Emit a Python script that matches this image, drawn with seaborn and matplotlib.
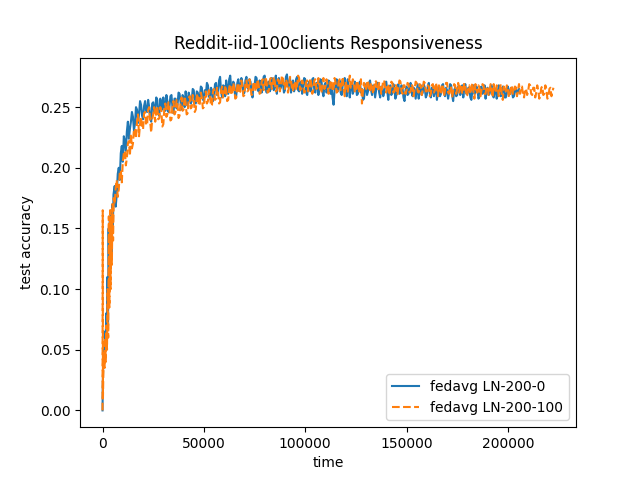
import numpy as np
import pandas as pd
import matplotlib
matplotlib.use("Agg")
import matplotlib.pyplot as plt
import seaborn as sns

title = "Reddit-iid-100clients Responsiveness"
x_label = "time"
y_label = "test accuracy"
label_blue = "fedavg LN-200-0"
label_orange = "fedavg LN-200-100"

early_time_blue = [0, 100, 300, 600, 900, 1200, 1500, 1800, 2100, 2400, 2700,
                   3000, 3300, 3600, 3900, 4200, 4500, 4800, 5100, 5400]
early_acc_blue = [0.0, 0.02, 0.035, 0.05, 0.04, 0.065, 0.05, 0.08, 0.06, 0.11,
                  0.07, 0.15, 0.10, 0.16, 0.12, 0.165, 0.13, 0.17, 0.15, 0.178]

early_time_orange = [0, 100, 200, 400, 700, 1000, 1300, 1600, 1900, 2200, 2500,
                     2800, 3100, 3400, 3700, 4000, 4300, 4600, 4900, 5200, 5500]
early_acc_orange = [0.0, 0.165, 0.01, 0.03, 0.045, 0.035, 0.06, 0.04, 0.07, 0.05,
                    0.10, 0.06, 0.16, 0.085, 0.165, 0.10, 0.16, 0.12, 0.17, 0.14, 0.175]

main_start = 6000
main_step = 500

acc_blue = [
    0.185, 0.168, 0.178, 0.195, 0.200, 0.190, 0.212, 0.218, 0.205, 0.226, 0.222, 0.214, 0.230, 0.238, 0.224, 0.232, 0.238, 0.246, 0.242, 0.231,
    0.236, 0.250, 0.248, 0.237, 0.244, 0.255, 0.252, 0.243, 0.240, 0.251, 0.255, 0.247, 0.246, 0.256, 0.250, 0.241, 0.238, 0.253, 0.254, 0.246,
    0.249, 0.258, 0.256, 0.244, 0.243, 0.257, 0.253, 0.248, 0.258, 0.251, 0.247, 0.260, 0.255, 0.246, 0.250, 0.259, 0.260, 0.250, 0.245, 0.257,
    0.257, 0.249, 0.252, 0.262, 0.261, 0.254, 0.248, 0.260, 0.258, 0.250, 0.263, 0.256, 0.251, 0.262, 0.259, 0.253, 0.255, 0.265, 0.264, 0.254,
    0.253, 0.263, 0.262, 0.255, 0.258, 0.267, 0.266, 0.257, 0.255, 0.264, 0.261, 0.270, 0.268, 0.259, 0.257, 0.266, 0.264, 0.255, 0.259, 0.269,
    0.270, 0.260, 0.262, 0.272, 0.275, 0.263, 0.258, 0.268, 0.267, 0.259, 0.272, 0.266, 0.261, 0.273, 0.276, 0.265, 0.264, 0.271, 0.269, 0.258,
    0.260, 0.270, 0.273, 0.264, 0.266, 0.274, 0.270, 0.261, 0.262, 0.272, 0.275, 0.266, 0.265, 0.273, 0.271, 0.263, 0.258, 0.269, 0.268, 0.275,
    0.274, 0.265, 0.263, 0.272, 0.270, 0.262, 0.267, 0.275, 0.276, 0.266, 0.262, 0.270, 0.271, 0.263, 0.265, 0.274, 0.273, 0.264, 0.268, 0.276,
    0.261, 0.270, 0.274, 0.265, 0.266, 0.273, 0.271, 0.262, 0.264, 0.275, 0.277, 0.267, 0.268, 0.274, 0.262, 0.270, 0.272, 0.263, 0.266, 0.273,
    0.275, 0.264, 0.263, 0.271, 0.270, 0.261, 0.267, 0.274, 0.273, 0.262, 0.260, 0.269, 0.271, 0.263, 0.265, 0.273, 0.274, 0.264, 0.262, 0.270,
    0.269, 0.260, 0.266, 0.273, 0.272, 0.263, 0.259, 0.268, 0.270, 0.262, 0.264, 0.272, 0.271, 0.261, 0.267, 0.258, 0.252, 0.264, 0.268, 0.273,
    0.263, 0.270, 0.272, 0.262, 0.260, 0.268, 0.269, 0.274, 0.266, 0.259, 0.273, 0.265, 0.258, 0.267, 0.270, 0.261, 0.264, 0.271, 0.268, 0.260,
    0.261, 0.269, 0.271, 0.262, 0.265, 0.256, 0.257, 0.266, 0.269, 0.260, 0.263, 0.270, 0.272, 0.264, 0.260, 0.268, 0.267, 0.258, 0.264, 0.270,
    0.270, 0.262, 0.258, 0.267, 0.266, 0.259, 0.262, 0.270, 0.271, 0.263, 0.256, 0.265, 0.268, 0.260, 0.263, 0.269, 0.265, 0.257, 0.260, 0.267,
    0.269, 0.261, 0.262, 0.268, 0.266, 0.258, 0.255, 0.264, 0.267, 0.260, 0.261, 0.268, 0.270, 0.262, 0.259, 0.266, 0.265, 0.257, 0.263, 0.269,
    0.257, 0.265, 0.268, 0.260, 0.262, 0.269, 0.266, 0.258, 0.260, 0.267, 0.270, 0.261, 0.258, 0.266, 0.265, 0.259, 0.263, 0.268, 0.256, 0.264,
    0.267, 0.259, 0.261, 0.268, 0.269, 0.262, 0.259, 0.266, 0.264, 0.257, 0.262, 0.269, 0.268, 0.260, 0.255, 0.264, 0.266, 0.259, 0.260, 0.267,
    0.267, 0.260, 0.263, 0.268, 0.258, 0.265, 0.269, 0.261, 0.261, 0.266, 0.265, 0.258, 0.256, 0.264, 0.268, 0.261, 0.262, 0.267, 0.264, 0.257,
    0.259, 0.266, 0.267, 0.261, 0.263, 0.268, 0.257, 0.264, 0.266, 0.260, 0.261, 0.267, 0.268, 0.260, 0.258, 0.265, 0.264, 0.257, 0.262, 0.268,
    0.266, 0.259, 0.260, 0.267, 0.265, 0.258, 0.258, 0.264, 0.267, 0.260, 0.262, 0.266, 0.264, 0.258, 0.259, 0.266, 0.266, 0.260, 0.263, 0.265,
]

acc_orange = [
    0.170, 0.184, 0.190, 0.176, 0.182, 0.196, 0.198, 0.188, 0.205, 0.212, 0.214, 0.202, 0.208, 0.220, 0.222, 0.210, 0.228, 0.216, 0.220, 0.232,
    0.232, 0.224, 0.238, 0.244, 0.226, 0.236, 0.242, 0.232, 0.232, 0.245, 0.246, 0.235, 0.236, 0.248, 0.250, 0.238, 0.229, 0.240, 0.244, 0.250,
    0.238, 0.247, 0.251, 0.240, 0.241, 0.250, 0.247, 0.234, 0.236, 0.249, 0.253, 0.242, 0.244, 0.254, 0.249, 0.239, 0.240, 0.251, 0.255, 0.244,
    0.246, 0.256, 0.252, 0.241, 0.243, 0.254, 0.258, 0.247, 0.248, 0.259, 0.254, 0.244, 0.245, 0.256, 0.259, 0.249, 0.250, 0.260, 0.256, 0.246,
    0.248, 0.259, 0.261, 0.251, 0.253, 0.262, 0.258, 0.249, 0.250, 0.261, 0.263, 0.253, 0.255, 0.264, 0.260, 0.251, 0.252, 0.263, 0.265, 0.256,
    0.257, 0.266, 0.262, 0.253, 0.254, 0.264, 0.267, 0.258, 0.259, 0.268, 0.264, 0.255, 0.256, 0.266, 0.269, 0.260, 0.261, 0.270, 0.266, 0.257,
    0.258, 0.268, 0.270, 0.261, 0.263, 0.272, 0.267, 0.259, 0.260, 0.270, 0.272, 0.263, 0.264, 0.273, 0.268, 0.260, 0.261, 0.270, 0.271, 0.263,
    0.265, 0.273, 0.269, 0.261, 0.262, 0.271, 0.273, 0.264, 0.266, 0.275, 0.270, 0.262, 0.263, 0.272, 0.274, 0.265, 0.267, 0.275, 0.271, 0.263,
    0.264, 0.273, 0.272, 0.263, 0.268, 0.276, 0.275, 0.266, 0.265, 0.273, 0.270, 0.262, 0.267, 0.275, 0.273, 0.264, 0.263, 0.271, 0.271, 0.264,
    0.268, 0.276, 0.274, 0.264, 0.265, 0.272, 0.270, 0.262, 0.263, 0.271, 0.272, 0.263, 0.267, 0.274, 0.269, 0.261, 0.264, 0.272, 0.273, 0.265,
    0.266, 0.274, 0.271, 0.262, 0.262, 0.270, 0.274, 0.265, 0.267, 0.273, 0.269, 0.261, 0.264, 0.272, 0.272, 0.263, 0.266, 0.274, 0.270, 0.262,
    0.263, 0.271, 0.273, 0.264, 0.268, 0.275, 0.265, 0.259, 0.271, 0.266, 0.262, 0.270, 0.276, 0.266, 0.266, 0.273, 0.270, 0.262, 0.264, 0.272,
    0.269, 0.262, 0.267, 0.273, 0.253, 0.263, 0.270, 0.264, 0.265, 0.271, 0.272, 0.263, 0.263, 0.270, 0.268, 0.261, 0.266, 0.272, 0.271, 0.264,
    0.264, 0.270, 0.269, 0.261, 0.266, 0.272, 0.272, 0.264, 0.262, 0.269, 0.268, 0.260, 0.265, 0.271, 0.270, 0.262, 0.263, 0.269, 0.267, 0.260,
    0.266, 0.272, 0.271, 0.263, 0.261, 0.268, 0.268, 0.261, 0.264, 0.270, 0.269, 0.262, 0.263, 0.269, 0.267, 0.259, 0.265, 0.271, 0.270, 0.263,
    0.262, 0.269, 0.268, 0.260, 0.265, 0.271, 0.270, 0.263, 0.263, 0.268, 0.267, 0.259, 0.261, 0.268, 0.269, 0.262, 0.264, 0.270, 0.266, 0.259,
    0.268, 0.261, 0.262, 0.269, 0.267, 0.259, 0.264, 0.270, 0.270, 0.262, 0.261, 0.267, 0.266, 0.258, 0.263, 0.269, 0.268, 0.261, 0.265, 0.270,
    0.262, 0.268, 0.269, 0.261, 0.264, 0.270, 0.267, 0.259, 0.260, 0.267, 0.268, 0.261, 0.265, 0.270, 0.263, 0.257, 0.269, 0.264, 0.262, 0.268,
    0.266, 0.259, 0.264, 0.269, 0.268, 0.261, 0.261, 0.267, 0.267, 0.260, 0.263, 0.269, 0.265, 0.258, 0.269, 0.263, 0.262, 0.268, 0.266, 0.259,
    0.264, 0.269, 0.260, 0.256, 0.267, 0.262, 0.263, 0.268, 0.265, 0.258, 0.259, 0.266, 0.268, 0.261, 0.262, 0.267, 0.266, 0.259, 0.264, 0.269,
    0.261, 0.267, 0.267, 0.259, 0.258, 0.265, 0.265, 0.260, 0.263, 0.269, 0.268, 0.261, 0.260, 0.266, 0.266, 0.258, 0.262, 0.268, 0.264, 0.257,
    0.259, 0.266, 0.267, 0.260, 0.261, 0.268, 0.265, 0.257, 0.258, 0.265, 0.266, 0.259, 0.263, 0.266,
]

time_blue = list(early_time_blue) + [main_start + main_step * i for i in range(len(acc_blue))]
time_orange = list(early_time_orange) + [main_start + main_step * i for i in range(len(acc_orange))]
vals_blue = early_acc_blue + acc_blue
vals_orange = early_acc_orange + acc_orange

df_blue = pd.DataFrame({"time": time_blue, "acc": vals_blue})
df_orange = pd.DataFrame({"time": time_orange, "acc": vals_orange})

fig, ax = plt.subplots(figsize=(6.4, 4.8), dpi=100)
sns.lineplot(data=df_blue, x="time", y="acc", ax=ax, color="#1f77b4",
             label=label_blue, estimator=None, sort=False, linewidth=1.5)
sns.lineplot(data=df_orange, x="time", y="acc", ax=ax, color="#ff7f0e",
             label=label_orange, estimator=None, sort=False, linewidth=1.5,
             linestyle="--")
ax.set_title(title)
ax.set_xlabel(x_label)
ax.set_ylabel(y_label)
ax.legend(loc="lower right")
fig.savefig("out.png", dpi=100)
